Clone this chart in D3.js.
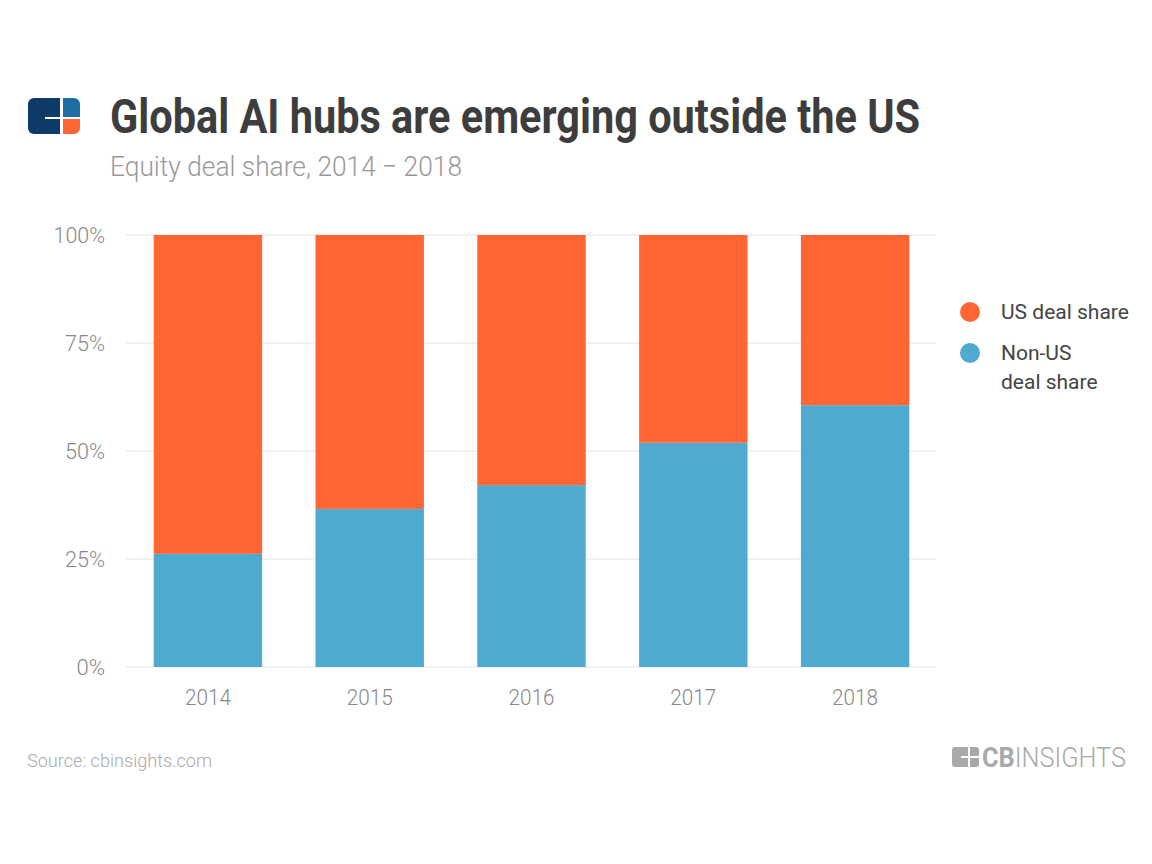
<!DOCTYPE html>
<html>
<head>
<meta charset="utf-8">
<script src="https://cdn.jsdelivr.net/npm/d3@7"></script>
<style>
  body { margin: 0; background: #fff; }
  svg { display: block; font-family: Roboto, "Noto Sans", sans-serif; }
</style>
</head>
<body>
<div id="chart"></div>
<script>
const years = ['2014', '2015', '2016', '2017', '2018'];
const nonUsShare = [26.2, 36.6, 42.1, 51.9, 60.6];
const usShare = [73.8, 63.4, 57.9, 48.1, 39.4];
const yTicks = [0, 25, 50, 75, 100];
const seriesNames = ['US deal share', 'Non-US deal share'];

const svgWidth = 1152;
const svgHeight = 864;
const margin = { top: 235, right: 216, bottom: 197, left: 127 };
const width = svgWidth - margin.left - margin.right;
const height = svgHeight - margin.top - margin.bottom;

const orange = '#ff6633';
const blue = '#4faacf';

// rough width of a condensed label: digits ~11.5px, percent sign ~17px
const labelWidth = s => s.replace('%', '').length * 11.5 + (s.includes('%') ? 17 : 0);

const svg = d3.select('#chart')
    .append('svg')
    .attr('width', svgWidth)
    .attr('height', svgHeight);

// header logo
const logo = svg.append('g');
logo.append('clipPath').attr('id', 'logoClip')
    .append('rect')
    .attr('x', 28).attr('y', 98).attr('width', 52).attr('height', 36).attr('rx', 6);
const lg = logo.append('g').attr('clip-path', 'url(#logoClip)');
lg.append('rect').attr('x', 28).attr('y', 98).attr('width', 32).attr('height', 36).attr('fill', '#0d3a66');
lg.append('rect').attr('x', 63).attr('y', 98).attr('width', 17).attr('height', 19).attr('fill', '#1c6ea4');
lg.append('rect').attr('x', 63).attr('y', 119).attr('width', 17).attr('height', 15).attr('fill', orange);
lg.append('rect').attr('x', 45).attr('y', 117).attr('width', 16).attr('height', 2).attr('fill', '#fff');

svg.append('text')
    .attr('x', 110).attr('y', 133)
    .attr('font-size', 48).attr('font-weight', 700)
    .attr('fill', '#3d3d3d')
    .attr('textLength', 810).attr('lengthAdjust', 'spacingAndGlyphs')
    .text('Global AI hubs are emerging outside the US');

svg.append('text')
    .attr('x', 110).attr('y', 176)
    .attr('font-size', 28).attr('font-weight', 300)
    .attr('fill', '#999')
    .attr('textLength', 352).attr('lengthAdjust', 'spacingAndGlyphs')
    .text('Equity deal share, 2014 \u2212 2018');

const bounds = svg.append('g')
    .attr('transform', `translate(${margin.left}, ${margin.top})`);

const xScale = d3.scaleBand()
    .domain(years)
    .range([0, width])
    .paddingInner(0.33)
    .paddingOuter(0.165);

const yScale = d3.scaleLinear()
    .domain([0, 100])
    .range([height, 0]);

// gridlines
bounds.append('g')
    .selectAll('line')
    .data(yTicks)
    .join('line')
    .attr('x1', -1).attr('x2', width)
    .attr('y1', d => yScale(d)).attr('y2', d => yScale(d))
    .attr('stroke', '#e3e3e3').attr('stroke-width', 1);

const yAxis = bounds.append('g')
    .call(d3.axisLeft(yScale).tickValues(yTicks).tickSize(0).tickPadding(22).tickFormat(d => d + '%'));
yAxis.select('.domain').remove();
yAxis.selectAll('text')
    .attr('font-size', 22).attr('font-weight', 300).attr('fill', '#888')
    .attr('font-family', 'Roboto')
    .attr('textLength', d => labelWidth(d + '%'))
    .attr('lengthAdjust', 'spacingAndGlyphs');

const xAxis = bounds.append('g')
    .attr('transform', `translate(0, ${height})`)
    .call(d3.axisBottom(xScale).tickSize(0).tickPadding(22));
xAxis.select('.domain').remove();
xAxis.selectAll('text')
    .attr('font-size', 22).attr('font-weight', 300).attr('fill', '#888')
    .attr('font-family', 'Roboto')
    .attr('textLength', d => labelWidth(d))
    .attr('lengthAdjust', 'spacingAndGlyphs');

const rows = years.map((y, i) => ({ year: y, nonus: nonUsShare[i], us: usShare[i] }));
const stacked = d3.stack().keys(['nonus', 'us'])(rows);
const colors = { nonus: blue, us: orange };

bounds.selectAll('g.layer')
    .data(stacked)
    .join('g')
    .attr('class', 'layer')
    .attr('fill', d => colors[d.key])
    .selectAll('rect')
    .data(d => d)
    .join('rect')
    .attr('x', d => xScale(d.data.year))
    .attr('width', xScale.bandwidth())
    .attr('y', d => yScale(d[1]))
    .attr('height', d => yScale(d[0]) - yScale(d[1]));

// legend
const legend = svg.append('g').attr('transform', 'translate(970, 312)');
const legendItems = [
    { lines: ['US deal share'], color: orange, dy: 0 },
    { lines: ['Non-US', 'deal share'], color: blue, dy: 41 }
];
const li = legend.selectAll('g')
    .data(legendItems)
    .join('g')
    .attr('transform', d => `translate(0, ${d.dy})`);
li.append('circle').attr('r', 10).attr('fill', d => d.color);
li.append('text')
    .attr('x', 31).attr('y', 7)
    .attr('font-size', 21).attr('fill', '#444').attr('font-weight', 400)
    .selectAll('tspan')
    .data(d => d.lines)
    .join('tspan')
    .attr('x', 31)
    .attr('dy', (d, i) => i === 0 ? 0 : 29)
    .text(d => d);

// footer
svg.append('text')
    .attr('x', 27).attr('y', 767)
    .attr('font-size', 19).attr('font-weight', 300)
    .attr('fill', '#aaa')
    .attr('textLength', 185).attr('lengthAdjust', 'spacingAndGlyphs')
    .text('Source: cbinsights.com');

const foot = svg.append('g');
foot.append('clipPath').attr('id', 'footClip')
    .append('rect').attr('x', 952).attr('y', 747).attr('width', 27).attr('height', 20).attr('rx', 3);
const fg = foot.append('g').attr('clip-path', 'url(#footClip)').attr('fill', '#a9a9a9');
fg.append('rect').attr('x', 952).attr('y', 747).attr('width', 16).attr('height', 20);
fg.append('rect').attr('x', 970).attr('y', 747).attr('width', 9).attr('height', 9);
fg.append('rect').attr('x', 970).attr('y', 758).attr('width', 9).attr('height', 9);
foot.append('rect').attr('x', 961).attr('y', 756).attr('width', 8).attr('height', 2).attr('fill', '#fff');

const brand = svg.append('text')
    .attr('x', 982).attr('y', 767)
    .attr('font-size', 27).attr('fill', '#a9a9a9')
    .attr('textLength', 144).attr('lengthAdjust', 'spacingAndGlyphs');
brand.append('tspan').attr('font-weight', 700).text('CB');
brand.append('tspan').attr('font-weight', 300).text('INSIGHTS');
</script>
</body>
</html>
